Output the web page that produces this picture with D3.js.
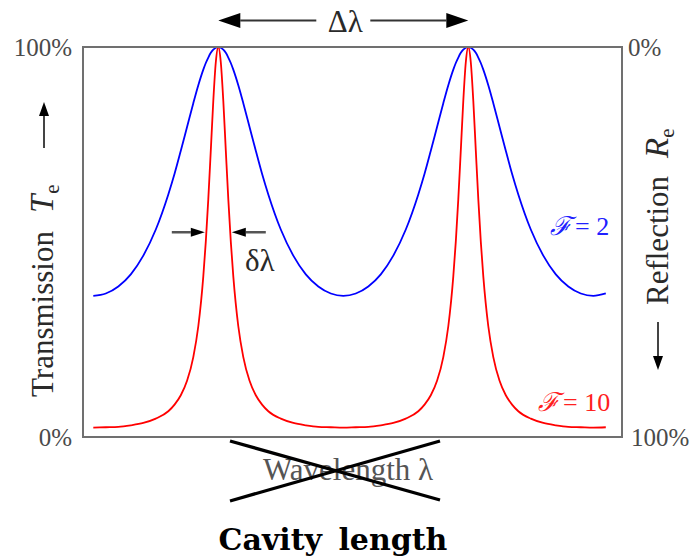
<!DOCTYPE html>
<html>
<head>
<meta charset="utf-8">
<script src="https://cdn.jsdelivr.net/npm/d3@7"></script>
<style>
  html, body { margin: 0; padding: 0; background: #fff; }
  svg { display: block; }
</style>
</head>
<body>
<script>
// wavelength positions (in free spectral ranges), peaks at 0.5 and 1.5
var lambda = [
  0, 0.05, 0.1, 0.15, 0.2, 0.25, 0.3, 0.325, 0.35, 0.375, 0.4, 0.42, 0.44, 0.45, 0.46, 0.47, 0.48, 0.49, 0.5,
  0.51, 0.52, 0.53, 0.54, 0.55, 0.56, 0.58, 0.6, 0.625, 0.65, 0.675, 0.7, 0.75, 0.8, 0.85, 0.9, 0.95, 1.0,
  1.05, 1.1, 1.15, 1.2, 1.25, 1.3, 1.325, 1.35, 1.375, 1.4, 1.42, 1.44, 1.45, 1.46, 1.47, 1.48, 1.49, 1.5,
  1.51, 1.52, 1.53, 1.54, 1.55, 1.56, 1.58, 1.6, 1.625, 1.65, 1.675, 1.7, 1.75, 1.8, 1.85, 1.9, 1.95, 2.0, 2.05
];
// transmission, finesse 2 (blue)
var transF2 = [
  0.362, 0.368, 0.386, 0.417, 0.465, 0.532, 0.622, 0.675, 0.734, 0.795, 0.856, 0.902, 0.942, 0.959, 0.973, 0.985, 0.993, 0.998, 1,
  0.998, 0.993, 0.985, 0.973, 0.959, 0.942, 0.902, 0.856, 0.795, 0.734, 0.675, 0.622, 0.532, 0.465, 0.417, 0.386, 0.368, 0.362,
  0.368, 0.386, 0.417, 0.465, 0.532, 0.622, 0.675, 0.734, 0.795, 0.856, 0.902, 0.942, 0.959, 0.973, 0.985, 0.993, 0.998, 1,
  0.998, 0.993, 0.985, 0.973, 0.959, 0.942, 0.902, 0.856, 0.795, 0.734, 0.675, 0.622, 0.532, 0.465, 0.417, 0.386, 0.368, 0.362, 0.368
];
// transmission, finesse 10 (red)
var transF10 = [
  0.024, 0.025, 0.026, 0.030, 0.036, 0.047, 0.066, 0.083, 0.107, 0.144, 0.205, 0.284, 0.412, 0.501, 0.610, 0.735, 0.862, 0.961, 1,
  0.961, 0.862, 0.735, 0.610, 0.501, 0.412, 0.284, 0.205, 0.144, 0.107, 0.083, 0.066, 0.047, 0.036, 0.030, 0.026, 0.025, 0.024,
  0.025, 0.026, 0.030, 0.036, 0.047, 0.066, 0.083, 0.107, 0.144, 0.205, 0.284, 0.412, 0.501, 0.610, 0.735, 0.862, 0.961, 1,
  0.961, 0.862, 0.735, 0.610, 0.501, 0.412, 0.284, 0.205, 0.144, 0.107, 0.083, 0.066, 0.047, 0.036, 0.030, 0.026, 0.025, 0.024, 0.025
];
var peaks = [0.5, 1.5];
var fwhm = [0.45, 0.55];     // half-maximum crossings of the red peak
var fwhmLevel = 0.525;
var tickValues = [0, 1];

var width = 694, height = 560;
var margin = { top: 47, right: 72, bottom: 123, left: 83 };
var serif = "'Liberation Serif', 'Times New Roman', serif";

var svg = d3.select("body").append("svg")
  .attr("width", width)
  .attr("height", height);

var x = d3.scaleLinear().domain([-0.0412, 2.1148]).range([margin.left, width - margin.right]);
var y = d3.scaleLinear().domain([0, 1]).range([height - margin.bottom, margin.top]);
var yR = d3.scaleLinear().domain([0, 1]).range([margin.top, height - margin.bottom]);

function arrow(x1, y1, x2, y2, len, half, color, sw) {
  var a = Math.atan2(y2 - y1, x2 - x1);
  var bx = x2 - len * Math.cos(a), by = y2 - len * Math.sin(a);
  svg.append("line")
    .attr("x1", x1).attr("y1", y1).attr("x2", bx).attr("y2", by)
    .attr("stroke", color).attr("stroke-width", sw);
  var px = -Math.sin(a) * half, py = Math.cos(a) * half;
  svg.append("path")
    .attr("d", "M" + x2 + "," + y2 + "L" + (bx + px) + "," + (by + py) + "L" + (bx - px) + "," + (by - py) + "Z")
    .attr("fill", "#000");
}

// curves
var line = d3.line()
  .x(function (d) { return x(d[0]); })
  .y(function (d) { return y(d[1]); })
  .curve(d3.curveMonotoneX);

svg.append("path")
  .datum(lambda.map(function (l, i) { return [l, transF2[i]]; }))
  .attr("d", line)
  .attr("fill", "none").attr("stroke", "#0000ff").attr("stroke-width", 1.8);

svg.append("path")
  .datum(lambda.map(function (l, i) { return [l, transF10[i]]; }))
  .attr("d", line)
  .attr("fill", "none").attr("stroke", "#ff0000").attr("stroke-width", 1.8);

// frame
svg.append("rect")
  .attr("x", margin.left).attr("y", margin.top)
  .attr("width", width - margin.left - margin.right)
  .attr("height", height - margin.top - margin.bottom)
  .attr("fill", "none").attr("stroke", "#707070").attr("stroke-width", 2);

// tick labels
var fmt = d3.format(".0%");
var left = svg.append("g")
  .attr("transform", "translate(" + margin.left + ",0)")
  .call(d3.axisLeft(y).tickValues(tickValues).tickFormat(fmt).tickSize(0).tickPadding(11));
var right = svg.append("g")
  .attr("transform", "translate(" + (width - margin.right) + ",0)")
  .call(d3.axisRight(yR).tickValues(tickValues).tickFormat(fmt).tickSize(0).tickPadding(7));
[left, right].forEach(function (g) {
  g.select(".domain").remove();
  g.selectAll("text")
    .attr("font-family", serif).attr("font-size", 25).attr("fill", "#4a4a4a")
    .attr("dy", "0.32em");
});
right.selectAll("text").filter(function (d) { return d === 0; }).attr("x", 6);
right.selectAll("text").filter(function (d) { return d === 1; }).attr("x", 9);

// axis titles
svg.append("text")
  .attr("transform", "translate(53,397) rotate(-90)")
  .attr("font-family", serif).attr("font-size", 31).attr("fill", "#2a2a2a")
  .call(function (t) {
    t.append("tspan").text("Transmission");
    t.append("tspan").attr("dx", 18).attr("font-style", "italic").attr("font-size", 33).text("T");
    t.append("tspan").attr("font-size", 21).attr("dx", 1).attr("dy", 6).text("e");
  });
arrow(44, 148, 44, 102, 14, 5, "#444", 2);

svg.append("text")
  .attr("transform", "translate(668,305) rotate(-90)")
  .attr("font-family", serif).attr("font-size", 31).attr("fill", "#2a2a2a")
  .call(function (t) {
    t.append("tspan").text("Reflection");
    t.append("tspan").attr("dx", 18).attr("font-style", "italic").attr("font-size", 33).text("R");
    t.append("tspan").attr("font-size", 21).attr("dy", 6).text("e");
  });
arrow(658, 322, 658, 370, 14, 5, "#444", 2);

// free spectral range
var yTop = 20.5;
arrow(x(1), yTop, x(peaks[0]), yTop, 22, 7.5, "#333", 2);
arrow(x(1), yTop, x(peaks[1]), yTop, 22, 7.5, "#333", 2);
svg.append("rect")
  .attr("x", x(1) - 27).attr("y", 5).attr("width", 54).attr("height", 30)
  .attr("fill", "#fff");
svg.append("text")
  .attr("x", x(1) + 2).attr("y", 32)
  .attr("text-anchor", "middle")
  .attr("font-family", serif).attr("font-size", 31).attr("fill", "#2a2a2a")
  .text("Δλ");

// linewidth
var yw = y(fwhmLevel);
arrow(x(fwhm[0]) - 34, yw, x(fwhm[0]) - 1, yw, 14, 4.5, "#555", 2.5);
arrow(x(fwhm[1]) + 35, yw, x(fwhm[1]) + 1, yw, 14, 4.5, "#555", 2.5);
svg.append("text")
  .attr("x", 245).attr("y", 271)
  .attr("font-family", serif).attr("font-size", 31).attr("fill", "#2a2a2a")
  .text("δλ");

// finesse labels
function finesseLabel(xp, yp, val, color) {
  svg.append("text")
    .attr("x", xp).attr("y", yp)
    .attr("font-family", serif).attr("font-size", 26).attr("fill", color)
    .call(function (t) {
      t.append("tspan").attr("font-family", "'DejaVu Serif', serif").attr("font-style", "italic").text("ℱ");
      t.append("tspan").attr("dx", 4).text("= " + val);
    });
}
finesseLabel(550, 235, 2, "#2020ff");
finesseLabel(538, 411, 10, "#ff2020");

// x axis title, struck out
svg.append("text")
  .attr("x", 348).attr("y", 480)
  .attr("text-anchor", "middle")
  .attr("font-family", serif).attr("font-size", 31).attr("fill", "#555")
  .text("Wavelength λ");
svg.append("line").attr("x1", 230).attr("y1", 441).attr("x2", 440).attr("y2", 500)
  .attr("stroke", "#000").attr("stroke-width", 3.3);
svg.append("line").attr("x1", 230).attr("y1", 501).attr("x2", 440).attr("y2", 441)
  .attr("stroke", "#000").attr("stroke-width", 3.3);

svg.append("text")
  .attr("x", 333).attr("y", 550)
  .attr("text-anchor", "middle")
  .attr("font-family", "'DejaVu Serif', serif").attr("font-weight", "bold")
  .attr("font-size", 30).attr("fill", "#000")
  .attr("word-spacing", 6)
  .text("Cavity length");
</script>
</body>
</html>
